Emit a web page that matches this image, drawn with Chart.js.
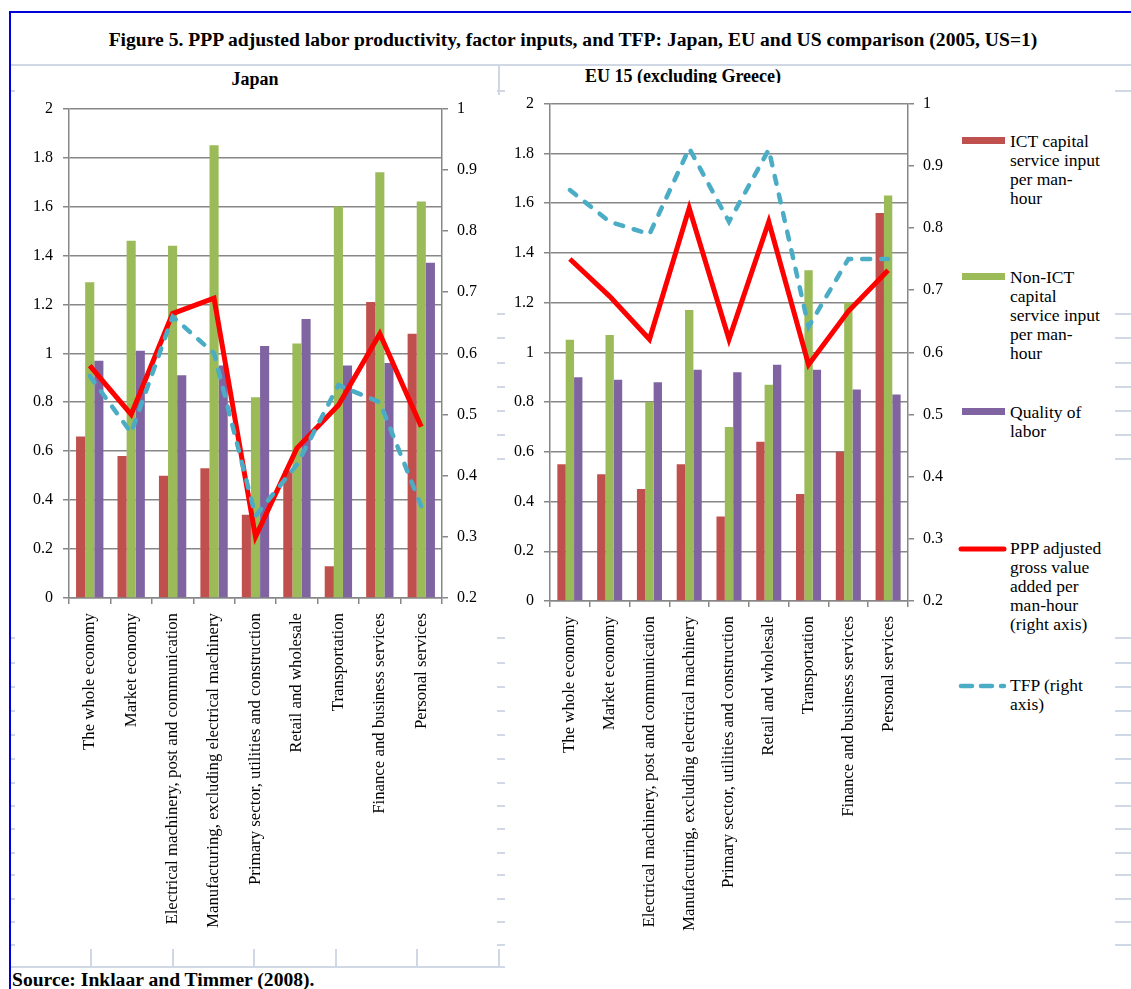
<!DOCTYPE html>
<html>
<head>
<meta charset="utf-8">
<script src="https://cdn.jsdelivr.net/npm/chart.js@4.4.1/dist/chart.umd.min.js"></script>
<style>
  html, body { margin: 0; padding: 0; background: #fff; }
  #page {
    position: relative; width: 1131px; height: 989px; overflow: hidden;
    font-family: 'Liberation Serif', 'Times New Roman', serif; color: #000;
  }
  .abs { position: absolute; }
  .rule { position: absolute; background: #d0d7e5; }
  .legend-text { position: absolute; left: 1010px; font-size: 17.5px; line-height: 19px; white-space: nowrap; }
  .swatch { position: absolute; left: 962px; width: 43px; height: 7px; }
</style>
</head>
<body>
<div id="page">
  <div class="abs" style="left:9px;top:11px;width:1122px;height:2px;background:#0000d8"></div>
  <div class="abs" style="left:9px;top:11px;width:2px;height:978px;background:#0000d8"></div>

  <div class="abs" style="left:10px;top:27px;width:1126px;text-align:center;font-weight:bold;font-size:19.6px;line-height:26px;white-space:nowrap">Figure 5. PPP adjusted labor productivity, factor inputs, and TFP: Japan, EU and US comparison (2005, US=1)</div>

  <div class="rule" style="left:11px;top:64px;width:1120px;height:2px"></div>
  <div class="rule" style="left:498px;top:65px;width:2px;height:30px"></div>

  <div class="abs" style="left:155px;top:68px;width:200px;text-align:center;font-weight:bold;font-size:18px;line-height:23px">Japan</div>
  <div class="abs" style="left:558px;top:65px;width:250px;height:18px;overflow:hidden;text-align:center;font-weight:bold;font-size:18px;line-height:23px">EU 15 (excluding Greece)</div>

  <canvas id="japan" class="abs" style="left:15px;top:89px" width="475" height="860"></canvas>
  <canvas id="eu" class="abs" style="left:500px;top:84px" width="450" height="860"></canvas>

  <div id="legend"></div>

  <div class="abs" style="left:12px;top:968px;font-weight:bold;font-size:19.6px;line-height:24px;white-space:nowrap">Source: Inklaar and Timmer (2008).</div>
</div>

<script>
// sectors on the category axis
const categories = [
  'The whole economy',
  'Market economy',
  'Electrical machinery, post and communication',
  'Manufacturing, excluding electrical machinery',
  'Primary sector, utilities and construction',
  'Retail and wholesale',
  'Transportation',
  'Finance and business services',
  'Personal services'
];

const seriesNames = [
  'ICT capital service input per man-hour',
  'Non-ICT capital service input per man-hour',
  'Quality of labor',
  'PPP adjusted gross value added per man-hour (right axis)',
  'TFP (right axis)'
];

// Japan (US = 1)
const japanIct    = [0.66, 0.58, 0.50, 0.53, 0.34, 0.52, 0.13, 1.21, 1.08];
const japanNonIct = [1.29, 1.46, 1.44, 1.85, 0.82, 1.04, 1.60, 1.74, 1.62];
const japanLabor  = [0.97, 1.01, 0.91, 0.95, 1.03, 1.14, 0.95, 0.96, 1.37];
const japanGva    = [0.58, 0.50, 0.665, 0.69, 0.30, 0.445, 0.515, 0.632, 0.48];
const japanTfp    = [0.563, 0.47, 0.66, 0.60, 0.334, 0.418, 0.548, 0.52, 0.35];

// EU 15 excluding Greece (US = 1)
const euIct    = [0.55, 0.51, 0.45, 0.55, 0.34, 0.64, 0.43, 0.60, 1.56];
const euNonIct = [1.05, 1.07, 0.80, 1.17, 0.70, 0.87, 1.33, 1.20, 1.63];
const euLabor  = [0.90, 0.89, 0.88, 0.93, 0.92, 0.95, 0.93, 0.85, 0.83];
const euGva    = [0.75, 0.69, 0.621, 0.832, 0.621, 0.81, 0.58, 0.666, 0.732];
const euTfp    = [0.861, 0.81, 0.79, 0.928, 0.81, 0.926, 0.641, 0.75, 0.75];

const FONT = "'Liberation Serif', 'Times New Roman', serif";
const GRID = '#878787';
const COLORS = ['#c0504d', '#9bbb59', '#8064a2', '#ff0000', '#4bacc6'];

// axis numbers without trailing zeros: 2, 1.8 ... 0
const shortNum = (v) => String(+Number(v).toFixed(1));

function buildChart(id, ict, nonIct, labor, gva, tfp, dims) {
  const bar = (i, data) => ({
    label: seriesNames[i], data, backgroundColor: COLORS[i],
    yAxisID: 'y', order: 2, barPercentage: 1, categoryPercentage: dims.cat
  });
  return new Chart(document.getElementById(id), {
    type: 'bar',
    data: {
      labels: categories,
      datasets: [
        bar(0, ict),
        bar(1, nonIct),
        bar(2, labor),
        {
          type: 'line', label: seriesNames[3], data: gva, yAxisID: 'y1', order: 1,
          borderColor: COLORS[3], borderWidth: 5, pointRadius: 0, tension: 0, fill: false
        },
        {
          type: 'line', label: seriesNames[4], data: tfp, yAxisID: 'y1', order: 0,
          borderColor: COLORS[4], borderWidth: 4.5, borderDash: [8, 11], borderCapStyle: 'round',
          pointRadius: 0, tension: 0, fill: false
        }
      ]
    },
    options: {
      responsive: false,
      animation: false,
      layout: { padding: 0 },
      plugins: { legend: { display: false }, tooltip: { enabled: false } },
      scales: {
        x: {
          grid: { drawOnChartArea: false, drawTicks: true, tickLength: 6, color: GRID, lineWidth: 1.5, offset: true },
          border: { color: GRID, width: 1.5 },
          ticks: { minRotation: 90, maxRotation: 90, autoSkip: false, padding: 9, color: '#000', font: { family: FONT, size: 16.8 } },
          afterFit: (s) => { s.height = dims.xH; }
        },
        y: {
          position: 'left', min: 0, max: 2,
          ticks: { stepSize: 0.2, padding: 10, color: '#000', font: { family: FONT, size: 16 }, callback: shortNum },
          grid: { color: GRID, lineWidth: 1.5, tickLength: 6 },
          border: { color: GRID, width: 1.5 },
          afterFit: (s) => { s.width = dims.leftW; }
        },
        y1: {
          position: 'right', min: 0.2, max: 1,
          ticks: { stepSize: 0.1, padding: 9, color: '#000', font: { family: FONT, size: 16 }, callback: shortNum },
          grid: { drawOnChartArea: false, color: GRID, lineWidth: 1.5, tickLength: 6 },
          border: { color: GRID, width: 1.5 },
          afterFit: (s) => { s.width = dims.rightW; }
        }
      }
    }
  });
}

buildChart('japan', japanIct, japanNonIct, japanLabor, japanGva, japanTfp,
  { leftW: 54, rightW: 48, xH: 351, cat: 0.66 });
buildChart('eu', euIct, euNonIct, euLabor, euGva, euTfp,
  { leftW: 50, rightW: 42, xH: 343, cat: 0.63 });

// legend on the right, text wrapped in a narrow column
const legendLines = [
  ['ICT capital', 'service input', 'per man-', 'hour'],
  ['Non-ICT', 'capital', 'service input', 'per man-', 'hour'],
  ['Quality of', 'labor'],
  ['PPP adjusted', 'gross value', 'added per', 'man-hour', '(right axis)'],
  ['TFP (right', 'axis)']
];
const legendTops = [142, 278, 413, 549, 686];
const legend = document.getElementById('legend');
legendLines.forEach((lines, i) => {
  const y = legendTops[i];
  const txt = document.createElement('div');
  txt.className = 'legend-text';
  txt.style.top = (y - 10) + 'px';
  txt.innerHTML = lines.join('<br>');
  legend.appendChild(txt);
  if (i < 3) {
    const sw = document.createElement('div');
    sw.className = 'swatch';
    sw.style.top = (y - 5) + 'px';
    sw.style.background = COLORS[i];
    legend.appendChild(sw);
  } else {
    const dash = i === 4 ? 'stroke-dasharray="11 9"' : '';
    const w = i === 4 ? 4.5 : 5;
    legend.insertAdjacentHTML('beforeend',
      `<svg class="abs" style="left:955px;top:${y - 10}px" width="56" height="20">` +
      `<line x1="6" y1="10" x2="49" y2="10" stroke="${COLORS[i]}" stroke-width="${w}" stroke-linecap="round" ${dash}/></svg>`);
  }
});

// faint worksheet cell marks around the two chart objects
const page = document.getElementById('page');
function rule(x, y, w, h) {
  const d = document.createElement('div');
  d.className = 'rule';
  d.style.left = x + 'px'; d.style.top = y + 'px';
  d.style.width = w + 'px'; d.style.height = h + 'px';
  page.appendChild(d);
}
const lowRows = [637, 662, 686, 710, 734, 758, 782, 805, 828, 852, 874, 898, 921, 944];
const midRows = [313, 337, 362, 386, 410, 434, 458];
[90].concat(lowRows).forEach(y => { rule(11, y, 4, 2); rule(497, y, 8, 2); rule(1115, y, 16, 2); });
midRows.forEach(y => { rule(497, y, 8, 2); rule(1115, y, 16, 2); });
[90, 172, 253, 335, 416, 498].forEach(x => rule(x, 949, 2, 18));
rule(11, 966, 494, 2);
</script>
</body>
</html>
